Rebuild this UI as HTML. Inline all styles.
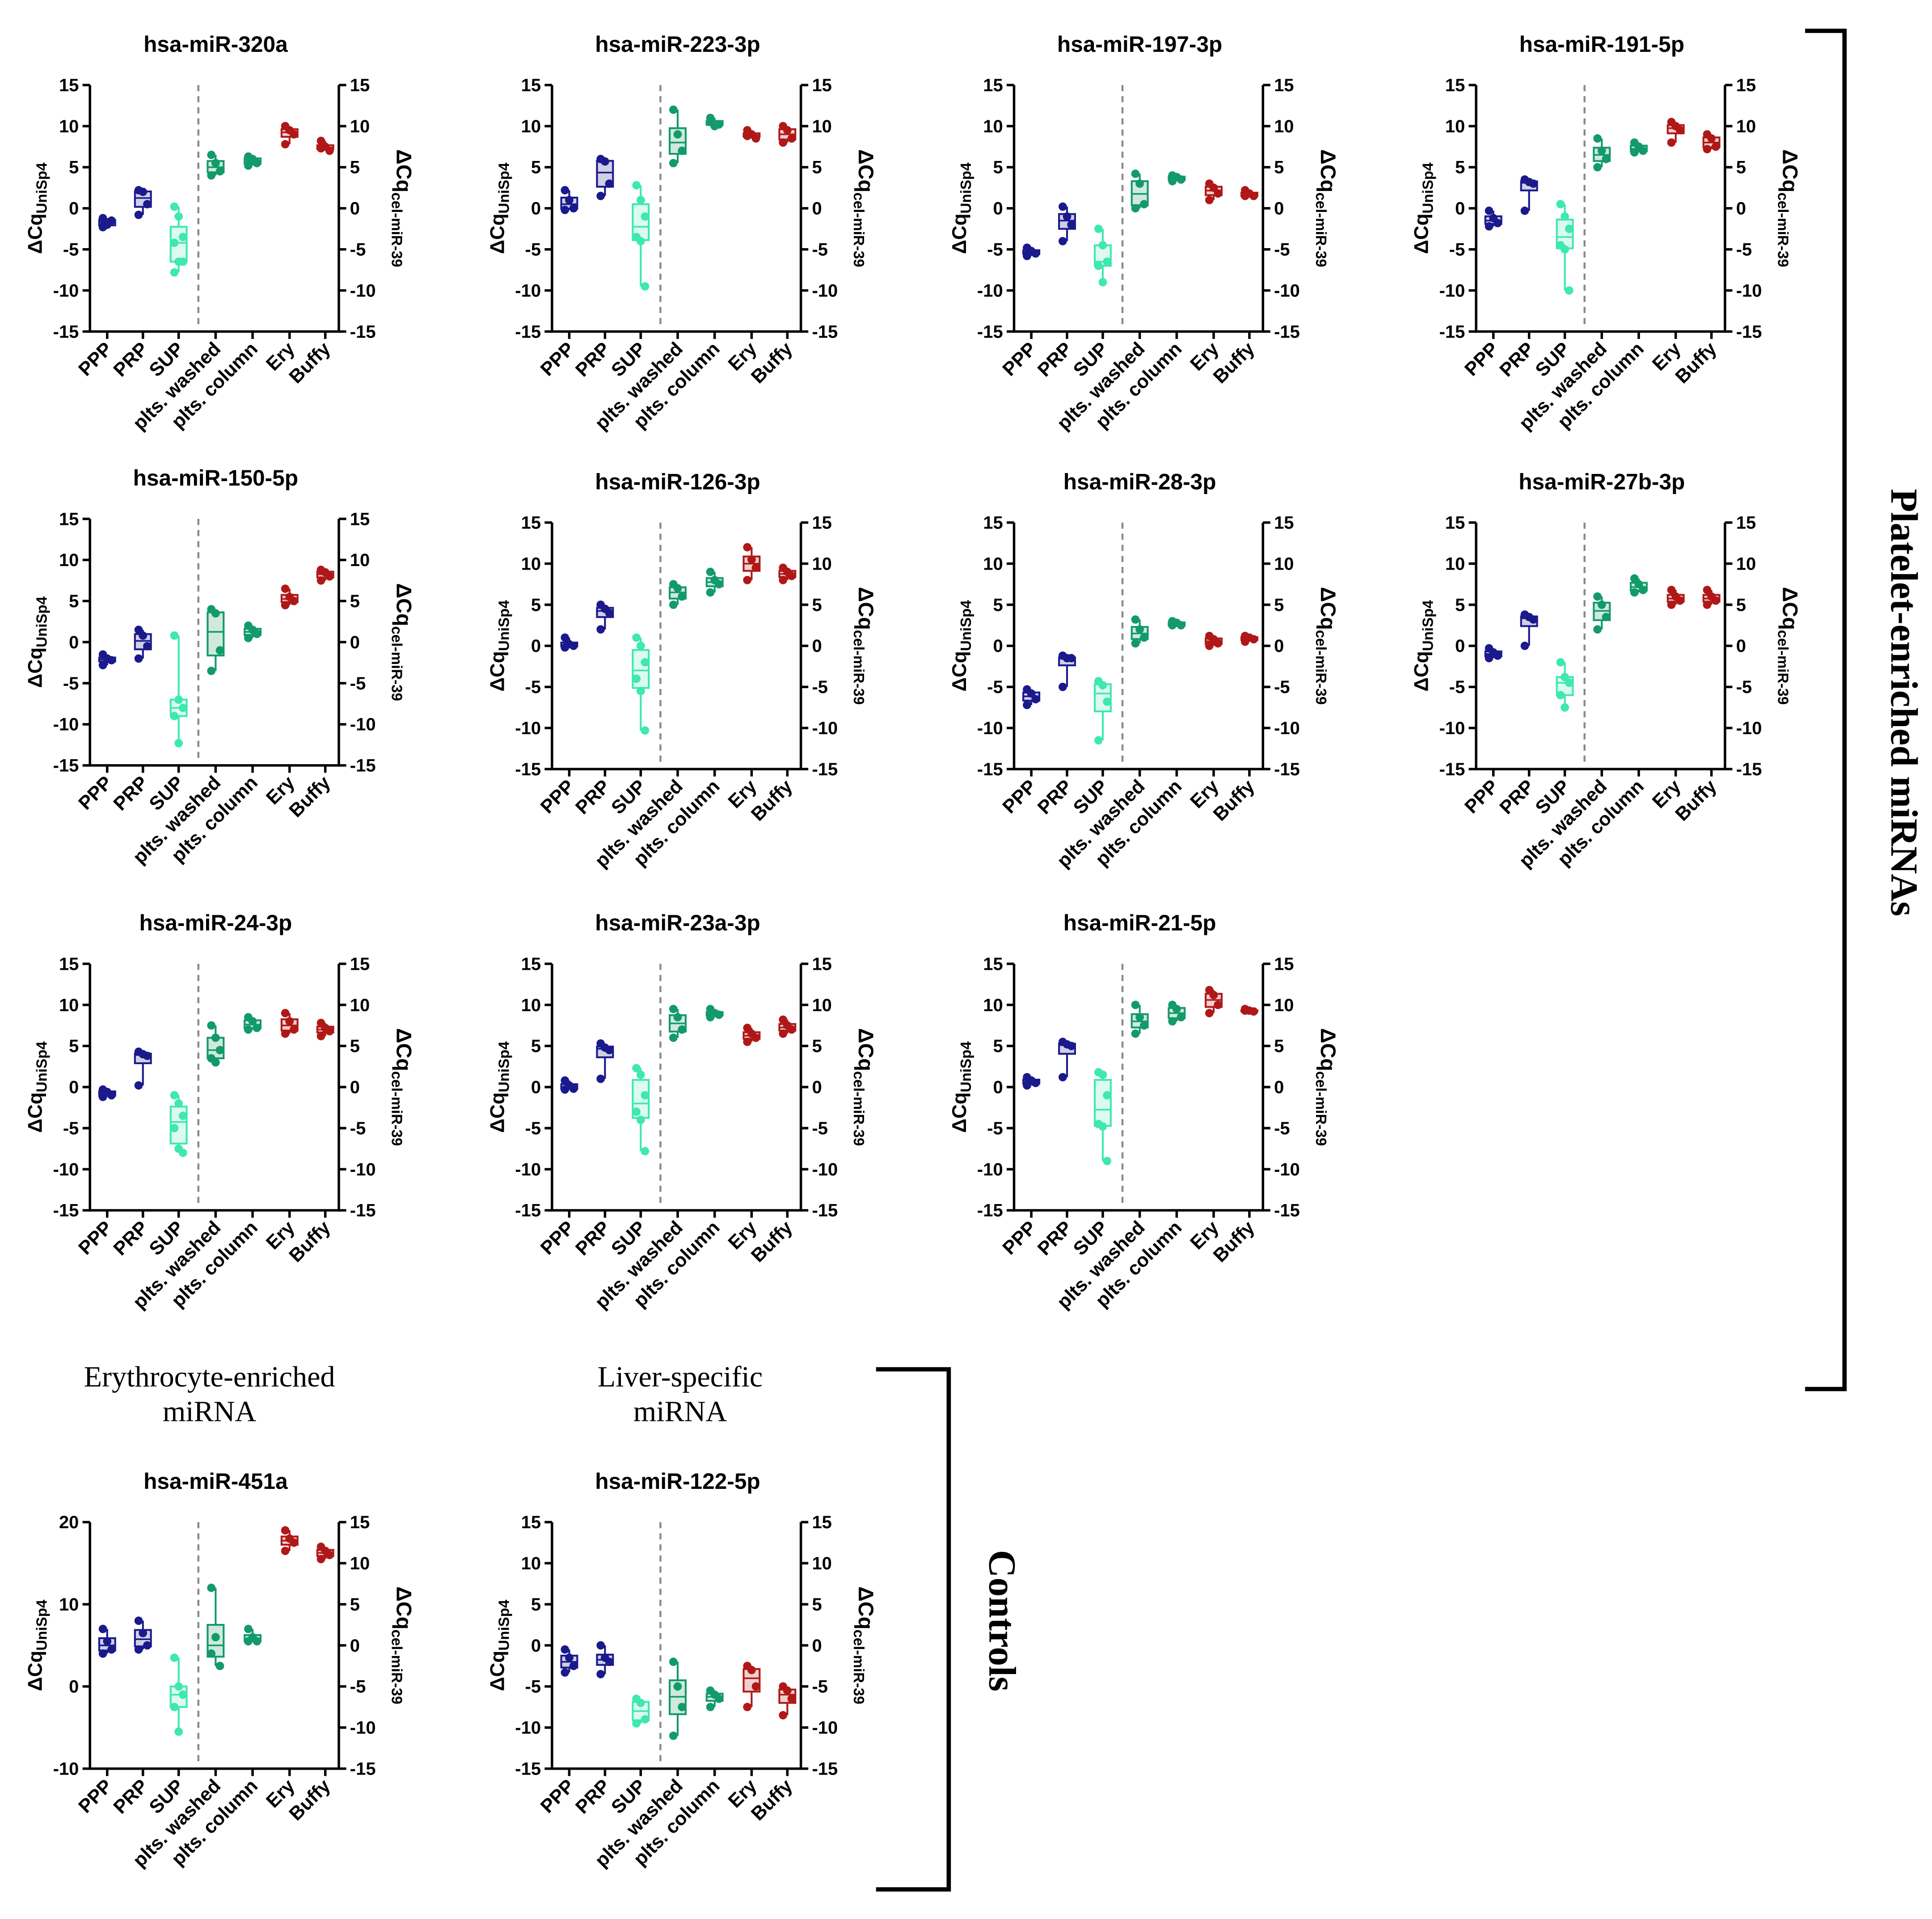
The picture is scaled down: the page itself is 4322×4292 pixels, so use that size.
<!DOCTYPE html>
<html><head><meta charset="utf-8">
<style>
html,body{margin:0;padding:0;background:#fff;}
svg{display:block;}
text{font-family:"Liberation Sans",Arial,sans-serif;}
.serif{font-family:"Liberation Serif","Times New Roman",serif;}
</style></head>
<body>
<svg id="fig" xmlns="http://www.w3.org/2000/svg" width="4322" height="4292" viewBox="0 0 1568 1557" preserveAspectRatio="none">
<rect x="0" y="0" width="1568" height="1557" fill="#fff"/>
</svg>
<script>
const categories=["PPP","PRP","SUP","plts. washed","plts. column","Ery","Buffy"];
const titles=["hsa-miR-320a","hsa-miR-223-3p","hsa-miR-197-3p","hsa-miR-191-5p","hsa-miR-150-5p","hsa-miR-126-3p","hsa-miR-28-3p","hsa-miR-27b-3p","hsa-miR-24-3p","hsa-miR-23a-3p","hsa-miR-21-5p","hsa-miR-451a","hsa-miR-122-5p"];
const v320a=[[-1.2,-2,-1.5,-2.3],[2.2,2,0.5,-0.8],[0.2,-1,-3.5,-4.2,-6.5,-6.5,-7.8],[6.5,5.5,4.5,4],[6.3,6,5.5,5.2],[10,9.5,9,7.8],[8.2,7.5,7,7.3]];
const v223=[[2.2,1,0,-0.2],[6,5.7,3,1.5],[2.8,1,-1,-3.5,-4,-9.5],[12,9,7,5.5],[11,10,10.2,10.5],[9.5,9,8.5,8.8],[10,9.5,8.5,8]];
const v197=[[-4.8,-5.2,-5.5,-5.8],[0.2,-1,-2,-4],[-2.5,-4.5,-6.5,-7,-9],[4.2,3,0.5,0],[4,3.8,3.5,3.3],[3,2.5,1.8,1],[2.2,1.8,1.5,1.5]];
const v191=[[-0.3,-1.2,-1.8,-2.2],[3.5,3.2,3,-0.3],[0.5,-1,-2.5,-4.5,-5,-10],[8.5,7,6,5],[8,7.5,7,6.8],[10.5,10,9.5,8],[9,8.5,7.5,7.2]];
const v150=[[-1.5,-2,-2.2,-2.8],[1.5,0.8,-0.5,-2],[0.8,-7,-8,-9,-12.3],[4,3.5,-1,-3.5],[2,1.5,1,0.5],[6.5,5.5,5,4.5],[8.8,8.5,8,7.5]];
const v126=[[1,0.2,0,-0.2],[5,4.5,4,2],[1,0,-2,-4,-5.5,-10.3],[7.5,7,6,5],[9,8,7.5,6.5],[12,10.5,9.5,8],[9.5,9,8.5,8]];
const v28=[[-5.3,-5.8,-6.5,-7.2],[-1.2,-1.5,-1.5,-5],[-4.3,-4.8,-6.8,-11.5],[3.2,2,1,0.3],[3,2.8,2.5,2.5],[1.2,0.8,0.3,0],[1.2,1,0.8,0.5]];
const v27b=[[-0.3,-0.8,-1.2,-1.5],[3.8,3.5,3.2,0],[-2,-3.8,-4.5,-6,-7.5],[6,5,3.5,2],[8.2,7.5,6.8,6.5],[6.8,6,5.5,5],[6.8,6,5.5,5]];
const v24=[[-0.3,-0.6,-1,-1.2],[4.3,4,3.8,0.2],[-1,-2,-3.5,-5,-7.5,-8],[7.5,6,4.5,3.5,3],[8.5,8,7.2,7],[9,8,7,6.5],[7.8,7.2,6.8,6.2]];
const v23a=[[0.8,0.2,-0.2,-0.3],[5.3,4.8,4.5,1],[2.3,1.5,-1,-3,-4,-7.8],[9.5,8.5,7,6],[9.5,9,8.8,8.5],[7.2,6.5,6,5.5],[8.2,7.5,7,6.5]];
const v21=[[1.2,0.8,0.5,0.2],[5.5,5.2,5,1.2],[1.8,1.5,-1,-4.5,-4.8,-9],[10,8.5,7.5,6.5],[10,9.5,8.5,8],[11.8,11.2,10,9],[9.5,9.3,9.2,9.3]];
const v451=[[7,5.5,4.5,4],[8,6.5,5,4.5],[3.5,0,-1,-2.5,-5.5],[12,6,2.5,4],[7,6,5.5,5.5],[19,18,17.5,16.5],[17,16.5,16,15.5]];
const v122=[[-0.5,-1.5,-2.5,-3.3],[0,-1.5,-2,-3.5],[-6.5,-7,-9,-9.5],[-2,-5,-7.5,-11],[-5.5,-6,-6.5,-7.5],[-2.5,-3,-5,-7.5],[-5,-5.5,-6.5,-8.5]];
const ticksStd=[15,10,5,0,-5,-10,-15];
const ticks451=[20,10,0,-10];
const ticksRight=[15,10,5,0,-5,-10,-15];

const NS="http://www.w3.org/2000/svg";
const svg=document.getElementById('fig');
function mk(tag,attrs,parent){const e=document.createElementNS(NS,tag);for(const k in attrs)e.setAttribute(k,attrs[k]);(parent||svg).appendChild(e);return e;}
const strokeC=["#1a1a8c","#1a1a8c","#3ee8b0","#139a6a","#139a6a","#b01818","#b01818"];
const fillC=["#cfcfe6","#cfcfe6","#dcfbf0","#cfe9df","#cfe9df","#f0cfcf","#f0cfcf"];
const catX=[87,116,145,175,205,235,264];
function quant(a,p){const s=[...a].sort((x,y)=>x-y);const pos=(s.length-1)*p;const lo=Math.floor(pos),hi=Math.ceil(pos);return s[lo]+(s[hi]-s[lo])*(pos-lo);}

function panel(ox,oy,title,vals,lmin,lmax,lticks){
  const g=mk('g',{});
  
  
  const top=oy+69,bot=oy+269,L=ox+73,R=ox+275;
  const yL=v=>bot-(v-lmin)/(lmax-lmin)*(bot-top);
  const yR=v=>bot-(v+15)/30*(bot-top);
  const t=mk('text',{x:ox+175,y:oy+42,'text-anchor':'middle','font-size':18,'font-weight':'bold'},g);
  t.textContent=title;
  
  
  const d=mk('line',{x1:ox+161,x2:ox+161,y1:top,y2:bot-3,stroke:'#888','stroke-width':1.6,'stroke-dasharray':'5,4'},g);
  
  
  const ax=mk('path',{d:`M${L} ${top}V${bot}H${R}V${top}`,fill:'none',stroke:'#000','stroke-width':2},g);
  
  
  lticks.forEach(v=>{
    mk('line',{x1:L-6,x2:L,y1:yL(v),y2:yL(v),stroke:'#000','stroke-width':2},g);
    const tx=mk('text',{x:L-9,y:yL(v)+5,'text-anchor':'end','font-size':14.5,'font-weight':'bold'},g);
    tx.textContent=v;
    
    
  });
  ticksRight.forEach(v=>{
    mk('line',{x1:R,x2:R+6,y1:yR(v),y2:yR(v),stroke:'#000','stroke-width':2},g);
    const tx=mk('text',{x:R+9,y:yR(v)+5,'text-anchor':'start','font-size':14.5,'font-weight':'bold'},g);
    tx.textContent=v;
    
    
  });
  const cy=(top+bot)/2;
  const yl=mk('text',{transform:`translate(${ox+34},${cy}) rotate(-90)`,'text-anchor':'middle','font-size':16,'font-weight':'bold'},g);
  yl.innerHTML='ΔCq<tspan font-size="12" dy="4">UniSp4</tspan>';
  
  
  const yr=mk('text',{transform:`translate(${ox+322},${cy}) rotate(90)`,'text-anchor':'middle','font-size':17,'font-weight':'bold'},g);
  yr.innerHTML='ΔCq<tspan font-size="12" dy="4">cel-miR-39</tspan>';
  
  
  categories.forEach((c,i)=>{
    const x=ox+catX[i];
    mk('line',{x1:x,x2:x,y1:bot,y2:bot+6,stroke:'#000','stroke-width':2},g);
    const lb=mk('text',{transform:`translate(${x+5},${bot+15}) rotate(-45)`,'text-anchor':'end','font-size':15.5,'font-weight':'bold'},g);
    lb.textContent=c;
    
    
    const a=vals[i];
    const mn=Math.min(...a),mx=Math.max(...a),q1=quant(a,0.25),q3=quant(a,0.75),md=quant(a,0.5);
    const bg=mk('g',{},g);
    
    
    mk('line',{x1:x,x2:x,y1:yL(mx),y2:yL(mn),stroke:strokeC[i],'stroke-width':1.5},bg);
    mk('rect',{x:x-6.5,y:yL(q3),width:13,height:Math.max(1,yL(q1)-yL(q3)),fill:fillC[i],stroke:strokeC[i],'stroke-width':1.5},bg);
    mk('line',{x1:x-6.5,x2:x+6.5,y1:yL(md),y2:yL(md),stroke:strokeC[i],'stroke-width':1.3},bg);
    a.forEach((v,j)=>{
      const dx=(j%3-1)*3.5;
      const p=mk('circle',{cx:x+dx,cy:yL(v),r:3.4,fill:strokeC[i]},bg);
      
      
    });
  });
}
const allVals=[v320a,v223,v197,v191,v150,v126,v28,v27b,v24,v23a,v21];
const origins=[[0,0],[375,0],[750,0],[1125,0],[0,352],[375,355],[750,355],[1125,355],[0,713],[375,713],[750,713]];
allVals.forEach((v,k)=>panel(origins[k][0],origins[k][1],titles[k],v,-15,15,ticksStd));
panel(0,1166,titles[11],v451,-10,20,ticks451);
panel(375,1166,titles[12],v122,-15,15,ticksStd);

function stxt(x,y,s,fs,name,rot){const t=mk('text',{x:x,y:y,'text-anchor':'middle','font-size':fs,'class':'serif'});if(rot)t.setAttribute('transform',rot);t.textContent=s;return t;}
stxt(170,1125,'Erythrocyte-enriched',24,'group-label-erythrocyte');
stxt(170,1153,'miRNA',24,'group-label-erythrocyte-line2');
stxt(552,1125,'Liver-specific',24,'group-label-liver');
stxt(552,1153,'miRNA',24,'group-label-liver-line2');
const b1=mk('path',{d:'M1465 25 H1497 V1127 H1465',fill:'none',stroke:'#000','stroke-width':3.5});


const b2=mk('path',{d:'M711 1111 H770 V1533 H711',fill:'none',stroke:'#000','stroke-width':3.5});


const pl=stxt(0,0,'Platelet-enriched miRNAs',31,'platelet-group-title','translate(1535,570) rotate(90)');
pl.setAttribute('font-weight','bold');
const ct=stxt(0,0,'Controls',31,'controls-group-title','translate(803,1315) rotate(90)');
ct.setAttribute('font-weight','bold');
</script>
</body></html>
